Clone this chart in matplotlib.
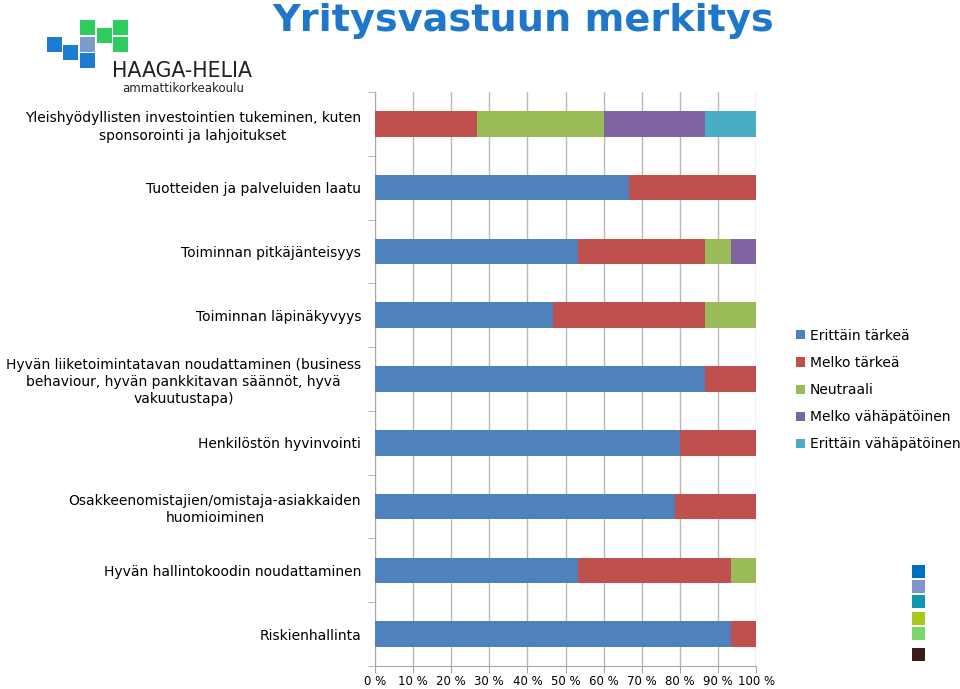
import numpy as np
import matplotlib.pyplot as plt
from matplotlib.patches import Rectangle

# kysymykset (ylhäältä alas)
categories = [
    'Yleishyödyllisten investointien tukeminen, kuten\nsponsorointi ja lahjoitukset',
    'Tuotteiden ja palveluiden laatu',
    'Toiminnan pitkäjänteisyys',
    'Toiminnan läpinäkyvyys',
    'Hyvän liiketoimintatavan noudattaminen (business\nbehaviour, hyvän pankkitavan säännöt, hyvä\nvakuutustapa)',
    'Henkilöstön hyvinvointi',
    'Osakkeenomistajien/omistaja-asiakkaiden\nhuomioiminen',
    'Hyvän hallintokoodin noudattaminen',
    'Riskienhallinta',
]

# osuudet prosentteina
erittain_tarkea = [0, 66.7, 53.3, 46.7, 86.7, 80.0, 78.6, 53.3, 93.3]
melko_tarkea = [26.7, 33.3, 33.3, 40.0, 13.3, 20.0, 21.4, 40.0, 6.7]
neutraali = [33.3, 0, 6.7, 13.3, 0, 0, 0, 6.7, 0]
melko_vahapatoinen = [26.7, 0, 6.7, 0, 0, 0, 0, 0, 0]
erittain_vahapatoinen = [13.3, 0, 0, 0, 0, 0, 0, 0, 0]

series = [
    ('Erittäin tärkeä', erittain_tarkea, '#4F81BD'),
    ('Melko tärkeä', melko_tarkea, '#C0504D'),
    ('Neutraali', neutraali, '#9BBB59'),
    ('Melko vähäpätöinen', melko_vahapatoinen, '#8064A2'),
    ('Erittäin vähäpätöinen', erittain_vahapatoinen, '#4BACC6'),
]

xticks = np.arange(0, 101, 10)
xticklabels = ['%d %%' % v for v in xticks]

plt.rcParams['font.family'] = ['DejaVu Sans']

fig = plt.figure(figsize=(9.6, 6.89), dpi=100)
ax = fig.add_axes([0.3906, 0.0334, 0.397, 0.833])

y = np.arange(len(categories))
left = np.zeros(len(categories))
handles = []
for name, vals, col in series:
    vals = np.array(vals, dtype=float)
    h = ax.barh(y, vals, left=left, height=0.4, color=col, label=name, zorder=3)
    handles.append(h)
    left = left + vals

ax.set_xlim(0, 100)
ax.set_ylim(len(categories) - 0.5, -0.5)
ax.set_xticks(xticks)
ax.set_xticklabels(xticklabels, fontsize=8.5)
ax.set_yticks(y)
ax.set_yticklabels(categories, fontsize=10, multialignment='center', linespacing=1.3)
ax.set_yticks(np.arange(len(categories) + 1) - 0.5, minor=True)
ax.tick_params(axis='y', which='major', length=0, pad=10)
ax.tick_params(axis='y', which='minor', length=5, color='#A8A8A8', direction='out')
ax.tick_params(axis='x', length=5, color='#A8A8A8', direction='out', pad=1.5)
ax.grid(axis='x', color='#B8B8B8', linewidth=1, zorder=0)
for s in ['top', 'right']:
    ax.spines[s].set_visible(False)
for s in ['left', 'bottom']:
    ax.spines[s].set_color('#A8A8A8')

leg = fig.legend(handles=handles, loc='upper left', bbox_to_anchor=(0.829, 0.523),
                 frameon=False, fontsize=10, handlelength=0.65, handleheight=0.65,
                 handletextpad=0.35, labelspacing=0.95, borderaxespad=0, borderpad=0)

# otsikko
fig.text(0.545, 0.97, 'Yritysvastuun merkitys', fontsize=27.5, fontweight='bold',
         color='#1F77C9', ha='center', va='center')

# logo
def px_rect(x0, y0, w, h, col):
    fig.patches.append(Rectangle((x0 / 960, 1 - (y0 + h) / 689), w / 960, h / 689,
                                 transform=fig.transFigure, facecolor=col,
                                 edgecolor='none'))

blue = '#1C7BD2'
green = '#2ECC5E'
px_rect(47, 37, 15, 15, blue)
px_rect(63, 45, 15, 15, blue)
px_rect(80, 37, 15, 15, '#7A9CCD')
px_rect(80, 53, 15, 15, blue)
px_rect(80, 20, 15, 15, green)
px_rect(97, 28, 15, 15, green)
px_rect(113, 20, 15, 15, green)
px_rect(113, 37, 15, 15, green)
fig.text(112 / 960, 1 - 71 / 689, 'HAAGA-HELIA', fontsize=14.8, color='#222222',
         ha='left', va='center')
fig.text(183 / 960, 1 - 89 / 689, 'ammattikorkeakoulu', fontsize=8.5, color='#222222',
         ha='center', va='center')

# koristeneliöt oikeassa alakulmassa
for y0, col in [(565, '#0070C0'), (580, '#7F97C8'), (595, '#0E97B0'),
                (612, '#A8C81A'), (627, '#7BD66D'), (648, '#3A1A1A')]:
    px_rect(912, y0, 13, 13, col)

fig.savefig('out.png', dpi=100)
